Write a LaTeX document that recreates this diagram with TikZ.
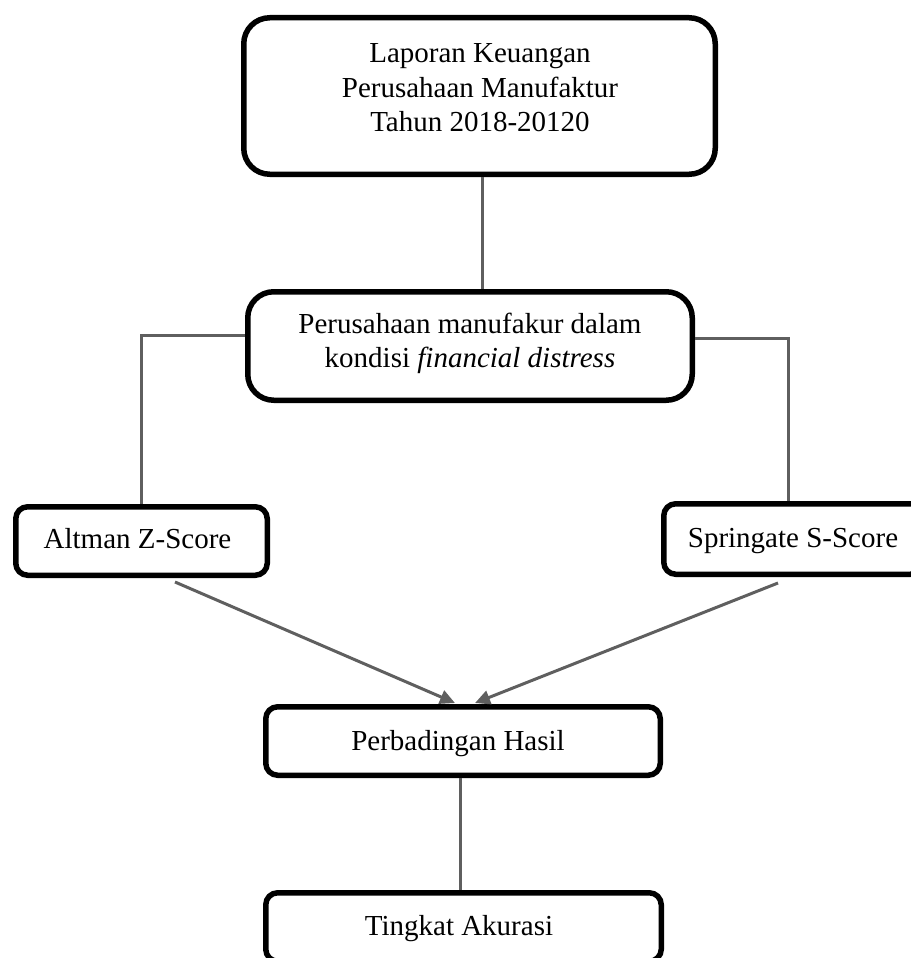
\documentclass[tikz,border=0pt]{standalone}
\usepackage{fontspec}
\setmainfont{Liberation Serif}
\usetikzlibrary{arrows.meta}
\definecolor{conn}{RGB}{95,95,95}
\begin{document}
\begin{tikzpicture}[x=1pt,y=-1pt,
  box/.style={draw=black, line width=5.5pt, rectangle, inner sep=0pt, fill=white},
  bigbox/.style={box, rounded corners=26pt},
  smallbox/.style={box, rounded corners=12pt},
  txt/.style={inner sep=0pt, font=\fontsize{29}{34.5}\selectfont, align=center},
  link/.style={draw=conn, line width=3pt},
  arr/.style={link, -{Triangle[length=15pt,width=14pt]}}]
\useasboundingbox (0,0) rectangle (910,958);
% boxes
\node[bigbox, minimum width=471.5pt, minimum height=156.5pt] (lap) at (479.5,96) {};
\node[bigbox, minimum width=444.5pt, minimum height=108.5pt] (mid) at (470,346) {};
\node[smallbox, minimum width=251.5pt, minimum height=68.5pt] (alt) at (141.5,541) {};
\node[smallbox, minimum width=258.5pt, minimum height=70.5pt] (spr) at (793,539) {};
\node[smallbox, minimum width=394.5pt, minimum height=68.5pt] (pb) at (463,741) {};
\node[smallbox, minimum width=395.5pt, minimum height=68.5pt] (tk) at (463.5,927) {};
% texts
\node[txt] (lapt) at (480,87.9) {Laporan Keuangan\\Perusahaan Manufaktur\\Tahun 2018-20120};
\node[txt] (midt) at (470,343.3) {Perusahaan manufakur dalam\\kondisi \textit{financial distress}};
\node[txt, anchor=base] (altt) at (137.5,548) {Altman Z-Score};
\node[txt, anchor=base] (sprt) at (793,547) {Springate S-Score};
\node[txt, anchor=base] (pbt) at (458,750) {Perbadingan Hasil};
\node[txt, anchor=base] (tkt) at (459,935) {Tingkat Akurasi};
% connectors
\draw[link] ([xshift=2.5pt]lap.south) -- ([xshift=2.5pt]lap.south |- mid.north);
\draw[link] ([yshift=11pt]mid.west) -| (alt.north);
\draw[link] ([yshift=8pt]mid.east) -| ([xshift=-5pt]spr.north);
\draw[arr] ([shift={(33.5pt,-4pt)}]alt.south) -- ([shift={(-8pt,1pt)}]pb.north);
\draw[arr] ([shift={(-15pt,-6pt)}]spr.south) -- ([shift={(12pt,1pt)}]pb.north);
\draw[link] ([xshift=-3pt]pb.south) -- ([xshift=-3pt]pb.south |- tk.north);
\end{tikzpicture}
\end{document}
